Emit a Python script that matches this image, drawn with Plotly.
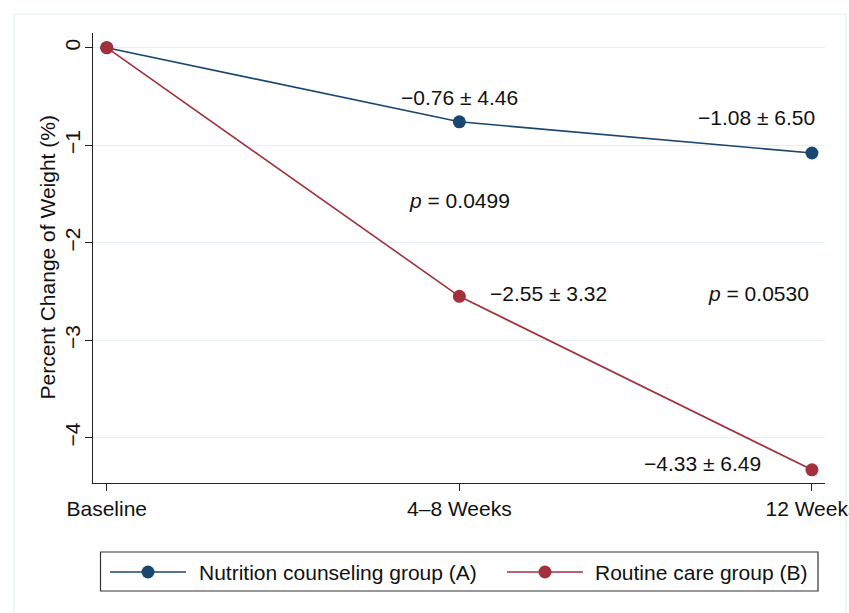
import plotly.graph_objects as go

timepoints = ["Baseline", "4\u20138 Weeks", "12 Weeks"]
group_a_name = "Nutrition counseling group (A)"
group_b_name = "Routine care group (B)"
group_a_mean = [0.0, -0.76, -1.08]
group_a_sd = [None, 4.46, 6.50]
group_b_mean = [0.0, -2.55, -4.33]
group_b_sd = [None, 3.32, 6.49]
p_values = ["0.0499", "0.0530"]
y_ticks = [0, -1, -2, -3, -4]
y_title = "Percent Change of Weight (%)"

BLUE = "#1a476f"
RED = "#a3303d"
FONT = "Liberation Sans, Arial, sans-serif"
FS = 21
W, H = 849, 613
L, T = 93, 33
PW, PH = 732, 450
R, B = W - L - PW, H - T - PH

def px(x):  # page pixel -> paper
    return (x - L) / PW

def py(y):
    return (T + PH - y) / PH

def fmt(m, s):
    return f"{m:.2f} \u00b1 {s:.2f}".replace("-", "\u2212")

fig = go.Figure()
fig.add_trace(go.Scatter(x=timepoints, y=group_a_mean, mode="lines+markers", name=group_a_name,
                         line=dict(color=BLUE, width=1.6), marker=dict(color=BLUE, size=13),
                         showlegend=False, cliponaxis=False))
fig.add_trace(go.Scatter(x=timepoints, y=group_b_mean, mode="lines+markers", name=group_b_name,
                         line=dict(color=RED, width=1.6), marker=dict(color=RED, size=13),
                         showlegend=False, cliponaxis=False))

ann_font = dict(family=FONT, size=FS, color="#111111")
annotations = [
    dict(x=timepoints[1], y=group_a_mean[1], text=fmt(group_a_mean[1], group_a_sd[1]),
         xanchor="center", yanchor="middle", yshift=24),
    dict(x=timepoints[2], y=group_a_mean[2], text=fmt(group_a_mean[2], group_a_sd[2]),
         xanchor="right", yanchor="middle", xshift=5, yshift=36),
    dict(x=timepoints[1], y=-1.564, text=f"<i>p</i> = {p_values[0]}",
         xanchor="center", yanchor="middle"),
    dict(x=timepoints[1], y=group_b_mean[1], text=fmt(group_b_mean[1], group_b_sd[1]),
         xanchor="left", yanchor="middle", xshift=29, yshift=3),
    dict(x=1.847, y=-2.516, text=f"<i>p</i> = {p_values[1]}",
         xanchor="center", yanchor="middle"),
    dict(x=timepoints[2], y=group_b_mean[2], text=fmt(group_b_mean[2], group_b_sd[2]),
         xanchor="right", yanchor="middle", xshift=-49, yshift=6),
]
for a in annotations:
    a.update(showarrow=False, font=ann_font, xref="x", yref="y")

# y axis title
annotations.append(dict(x=px(46.5), y=py(258), xref="paper", yref="paper", text=y_title,
                        textangle=-90, showarrow=False, xanchor="center", yanchor="middle",
                        font=ann_font))

# legend drawn manually (Stata style)
leg_y = 572
annotations += [
    dict(x=px(197), y=py(leg_y), xref="paper", yref="paper", text=group_a_name, showarrow=False,
         xanchor="left", yanchor="middle", font=ann_font),
    dict(x=px(593), y=py(leg_y), xref="paper", yref="paper", text=group_b_name, showarrow=False,
         xanchor="left", yanchor="middle", font=ann_font),
]

shapes = [
    # outer light frame
    dict(type="rect", xref="paper", yref="paper", x0=px(14), x1=px(846), y0=py(660), y1=py(14),
         line=dict(color="#e3f0f1", width=1.2), layer="below"),
    # legend box
    dict(type="rect", xref="paper", yref="paper", x0=px(100.5), x1=px(818), y0=py(591), y1=py(552),
         line=dict(color="#333333", width=1.2)),
    dict(type="line", xref="paper", yref="paper", x0=px(110), x1=px(186), y0=py(leg_y), y1=py(leg_y),
         line=dict(color=BLUE, width=1.6)),
    dict(type="line", xref="paper", yref="paper", x0=px(507), x1=px(583), y0=py(leg_y), y1=py(leg_y),
         line=dict(color=RED, width=1.6)),
]
for cx, col in [(148, BLUE), (545, RED)]:
    shapes.append(dict(type="circle", xref="paper", yref="paper", xsizemode="pixel", ysizemode="pixel",
                       xanchor=px(cx), yanchor=py(leg_y), x0=-6.5, x1=6.5, y0=-6.5, y1=6.5,
                       fillcolor=col, line=dict(color=col, width=0)))

fig.update_layout(
    width=W, height=H,
    margin=dict(l=L, r=R, t=T, b=B, pad=0, autoexpand=False),
    paper_bgcolor="white", plot_bgcolor="white",
    font=dict(family=FONT, size=FS, color="#111111"),
    annotations=annotations, shapes=shapes,
    showlegend=False,
)
fig.update_xaxes(type="category", range=[-0.039, 2.037], showgrid=False, automargin=False,
                 showline=True, linecolor="#222222", linewidth=1.3,
                 ticks="outside", ticklen=7, tickcolor="#222222", tickwidth=1.3,
                 tickfont=dict(family=FONT, size=FS, color="#111111"), zeroline=False)
fig.update_yaxes(range=[-4.465, 0.151], tickvals=y_ticks, tickangle=-90, automargin=False,
                 showgrid=True, gridcolor="#e4eff1", gridwidth=1.2,
                 showline=True, linecolor="#222222", linewidth=1.3,
                 ticks="outside", ticklen=7, tickcolor="#222222", tickwidth=1.3,
                 ticklabelstandoff=-4,
                 tickfont=dict(family=FONT, size=FS, color="#111111"), zeroline=False)

fig.write_html("out.html", config={"displayModeBar": False},
               post_script="document.body.style.margin='0';document.body.style.overflow='hidden';")
